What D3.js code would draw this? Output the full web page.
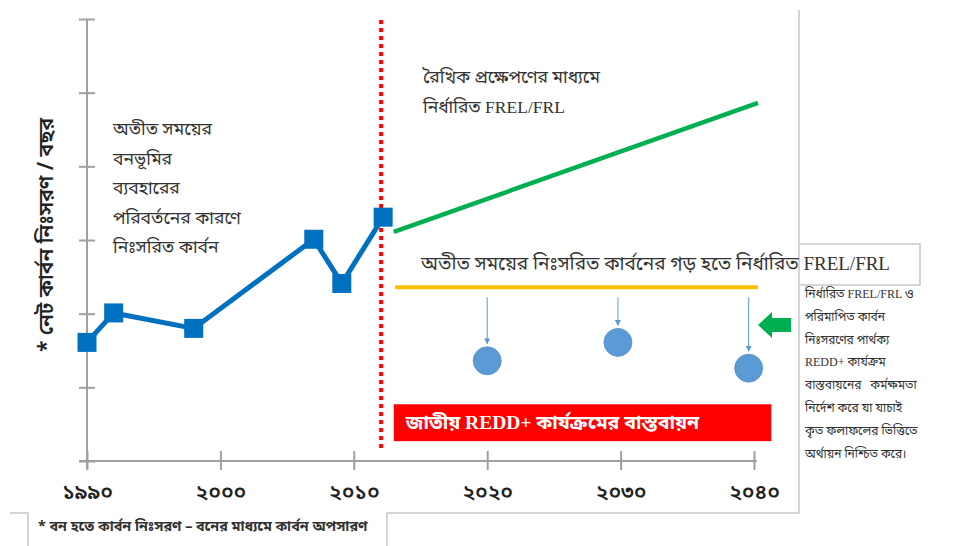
<!DOCTYPE html>
<html>
<head>
<meta charset="utf-8">
<script src="https://cdn.jsdelivr.net/npm/d3@7"></script>
<style>
  body { margin: 0; background: #fff; }
  text { font-family: "Noto Sans Bengali", "Noto Serif Bengali", "Lohit Bengali", "Noto Sans", sans-serif; }
  text.serif { font-family: "Liberation Serif", "Noto Sans Bengali", "Noto Serif Bengali", serif; }
</style>
</head>
<body>
<div id="vis"></div>
<script>
// past emissions (year, value)
const pastYears = [1990, 1992, 1998, 2007, 2009.1, 2012.2]
const pastValues = [1.61, 2.01, 1.80, 3.01, 2.41, 3.31]

// linear projection FREL/FRL
const projYears = [2013, 2040.3]
const projValues = [3.11, 4.86]

// average FREL/FRL
const avgYears = [2013.1, 2040.3]
const avgValue = 2.36

// measured emissions after REDD+
const measYears = [2020, 2029.8, 2039.6]
const measValues = [1.36, 1.61, 1.26]

const refYear = 2012.05
const xTicks = [1990, 2000, 2010, 2020, 2030, 2040]
const xTickLabels = ["১৯৯০", "২০০০", "২০১০", "২০২০", "২০৩০", "২০৪০"]
const yTicks = [0, 1, 2, 3, 4, 5, 6]

const yLabel = "* নেট কার্বন নিঃসরণ / বছর"
const leftNote = ["অতীত সময়ের", "বনভূমির", "ব্যবহারের", "পরিবর্তনের কারণে", "নিঃসরিত কার্বন"]
const topNote = ["রৈখিক প্রক্ষেপণের মাধ্যমে", "নির্ধারিত FREL/FRL"]
const avgNote = "অতীত সময়ের নিঃসরিত কার্বনের গড় হতে নির্ধারিত FREL/FRL"
const barText = "জাতীয় REDD+ কার্যক্রমের বাস্তবায়ন"
const barYears = [2013, 2041.3]
const barValues = [0.27, 0.77]
const sideNote = ["নির্ধারিত FREL/FRL ও", "পরিমাপিত কার্বন", "নিঃসরণের পার্থক্য", "REDD+ কার্যক্রম",
  "বাস্তবায়নের   কর্মক্ষমতা", "নির্দেশ করে যা যাচাই", "কৃত ফলাফলের ভিত্তিতে", "অর্থায়ন নিশ্চিত করে।"]
const footNote = "* বন হতে কার্বন নিঃসরণ – বনের মাধ্যমে কার্বন অপসারণ"

const W = 954, H = 546
const svg = d3.select("#vis").append("svg").attr("width", W).attr("height", H)

const x = d3.scaleLinear().domain([1990, 2040]).range([87, 754])
const y = d3.scaleLinear().domain([0, 6]).range([461, 19])

// frame lines from the text boxes
const grayBox = "#c8c8c8"
svg.append("path")
    .attr("d", "M799,10 V513 H387 V546 M799,244 H920 V285 H799 M10,513 H28 V546")
    .attr("fill", "none").attr("stroke", grayBox).attr("stroke-width", 1.5)

// axes
const axisColor = "#a0a0a0"
const yAxis = svg.append("g").attr("transform", "translate(" + x(1990) + ",0)")
    .call(d3.axisLeft(y).tickValues(yTicks).tickSize(8).tickFormat(""))
yAxis.selectAll(".tick line").attr("x2", 8).attr("x1", -8)
yAxis.select(".domain").attr("d", "M0," + y(6) + "V" + (y(0) + 8))
yAxis.selectAll("line, path").attr("stroke", axisColor).attr("stroke-width", 2)

const xAxis = svg.append("g").attr("transform", "translate(0," + y(0) + ")")
    .call(d3.axisBottom(x).tickValues(xTicks).tickSize(9).tickFormat((d, i) => xTickLabels[i]))
xAxis.selectAll(".tick line").attr("y1", -10).attr("y2", 9)
xAxis.select(".domain").attr("d", "M" + (x(1990) - 8) + ",0H" + (x(2040) + 3))
xAxis.selectAll("line, path").attr("stroke", axisColor).attr("stroke-width", 2)
xAxis.selectAll("text").attr("y", 23).attr("font-size", 21).attr("font-weight", 600)
    .attr("fill", "#222")

// y label
svg.append("text")
    .attr("transform", "translate(53," + 235 + ") rotate(-90)")
    .attr("text-anchor", "middle").attr("font-size", 21).attr("font-weight", 600)
    .attr("fill", "#222").text(yLabel)

// red dotted reference line
svg.append("line")
    .attr("x1", x(refYear)).attr("x2", x(refYear))
    .attr("y1", 20).attr("y2", 448)
    .attr("stroke", "#ff0000").attr("stroke-width", 4).attr("stroke-dasharray", "4,4")

// past line
const past = pastYears.map((d, i) => [d, pastValues[i]])
svg.append("path").datum(past)
    .attr("d", d3.line().x(d => x(d[0])).y(d => y(d[1])))
    .attr("fill", "none").attr("stroke", "#0070c0").attr("stroke-width", 5)
svg.selectAll(".sq").data(past).enter().append("rect")
    .attr("x", d => x(d[0]) - 9.5).attr("y", d => y(d[1]) - 9.5)
    .attr("width", 19).attr("height", 19).attr("fill", "#0070c0")

// projection line
svg.append("line")
    .attr("x1", x(projYears[0])).attr("y1", y(projValues[0]))
    .attr("x2", x(projYears[1])).attr("y2", y(projValues[1]))
    .attr("stroke", "#00b050").attr("stroke-width", 4.5)

// average line
svg.append("line")
    .attr("x1", x(avgYears[0])).attr("x2", x(avgYears[1]))
    .attr("y1", y(avgValue)).attr("y2", y(avgValue))
    .attr("stroke", "#ffc000").attr("stroke-width", 4)

// arrows + circles
const arrowColor = "#5b9bd5"
svg.append("defs").append("marker")
    .attr("id", "ah").attr("viewBox", "0 0 10 10").attr("refX", 9).attr("refY", 5)
    .attr("markerWidth", 6).attr("markerHeight", 6).attr("orient", "auto")
    .append("path").attr("d", "M0,0L10,5L0,10Z").attr("fill", arrowColor)
measYears.forEach((yr, i) => {
    svg.append("line")
        .attr("x1", x(yr)).attr("x2", x(yr))
        .attr("y1", y(avgValue) + 10).attr("y2", y(measValues[i]) - 17)
        .attr("stroke", arrowColor).attr("stroke-width", 1).attr("marker-end", "url(#ah)")
})
svg.selectAll(".dot").data(measYears).enter().append("circle")
    .attr("cx", d => x(d)).attr("cy", (d, i) => y(measValues[i]))
    .attr("r", 14).attr("fill", arrowColor).attr("stroke", "#5a8ec8").attr("stroke-width", 0.8)

// red bar
svg.append("rect")
    .attr("x", x(barYears[0])).attr("y", y(barValues[1]))
    .attr("width", x(barYears[1]) - x(barYears[0]))
    .attr("height", y(barValues[0]) - y(barValues[1]))
    .attr("fill", "#ff0000")
svg.append("text").attr("class", "serif").attr("x", x(barYears[0]) + 12).attr("y", 429)
    .attr("font-size", 19.5).attr("font-weight", "bold").attr("fill", "#fff").text(barText)

// green block arrow
svg.append("path")
    .attr("d", "M758,325 L772,312 L772,318 L791,318 L791,332 L772,332 L772,338 Z")
    .attr("fill", "#00b050")

// notes
const noteColor = "#333"
svg.append("g").selectAll("text").data(leftNote).enter().append("text")
    .attr("x", 113).attr("y", (d, i) => 135 + i * 29.5)
    .attr("font-size", 17.5).attr("fill", noteColor).text(d => d)
svg.append("g").selectAll("text").data(topNote).enter().append("text").attr("class", "serif")
    .attr("x", 423).attr("y", (d, i) => 83 + i * 30)
    .attr("font-size", 17.5).attr("fill", noteColor).text(d => d)
svg.append("text").attr("class", "serif").attr("x", 421).attr("y", 270)
    .attr("font-size", 19).attr("fill", noteColor).text(avgNote)
svg.append("g").selectAll("text").data(sideNote).enter().append("text").attr("class", "serif")
    .attr("x", 805).attr("y", (d, i) => 298 + i * 22.8)
    .attr("font-size", 12).attr("fill", noteColor)
    .style("white-space", "pre").text(d => d)
svg.append("text").attr("x", 38).attr("y", 531)
    .attr("font-size", 14.3).attr("font-weight", "bold").attr("fill", noteColor).text(footNote)
</script>
</body>
</html>
